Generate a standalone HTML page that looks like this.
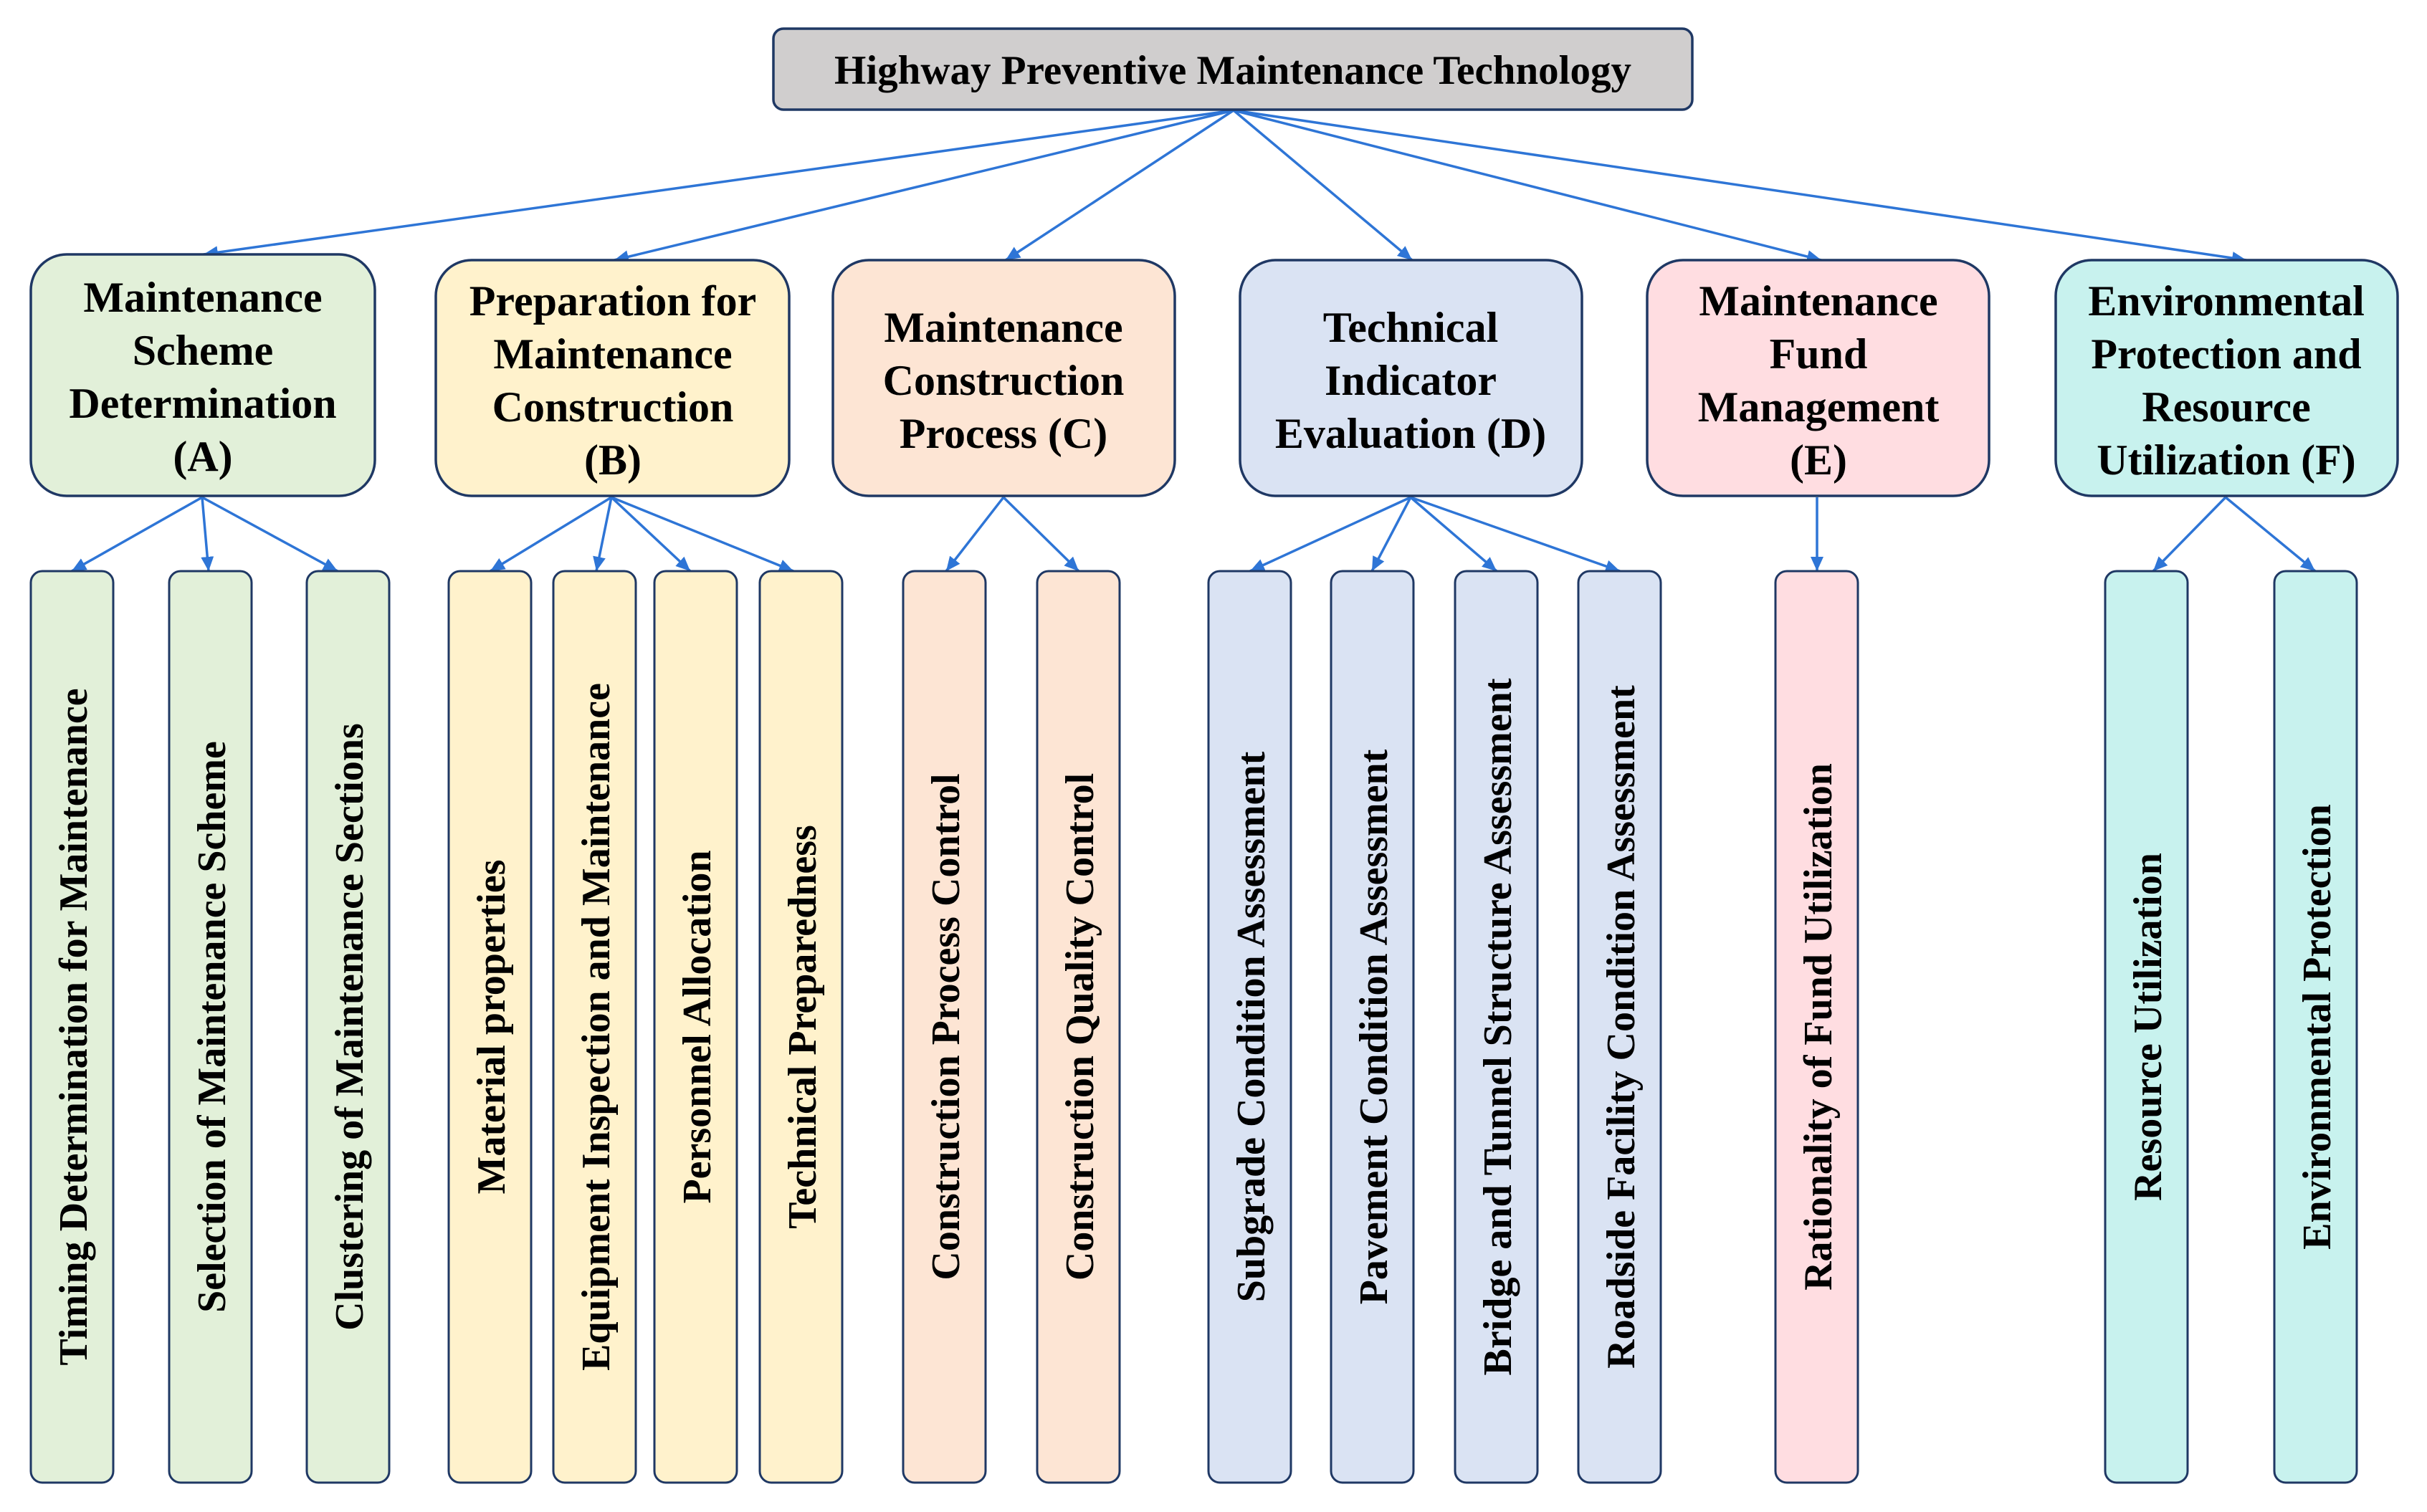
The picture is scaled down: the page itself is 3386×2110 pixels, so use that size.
<!DOCTYPE html>
<html><head><meta charset="utf-8"><style>html,body{margin:0;padding:0;background:#fff}svg{display:block}</style></head>
<body>
<svg xmlns="http://www.w3.org/2000/svg" width="3386" height="2110" viewBox="0 0 3386 2110" font-family="Liberation Serif, serif" font-weight="bold">
<defs>
<marker id="ar" markerWidth="10" markerHeight="10" refX="9" refY="5" orient="auto" markerUnits="userSpaceOnUse" viewBox="0 0 10 10">
<path d="M0,0 L10,5 L0,10 z" fill="#2e75d6" transform="scale(1)"/>
</marker>
<marker id="a" markerWidth="22" markerHeight="20" refX="20" refY="10" orient="auto" markerUnits="userSpaceOnUse">
<path d="M0,1 L20,10 L0,19 z" fill="#2e75d6"/>
</marker>
</defs>
<g stroke="#2e75d6" stroke-width="3.5" fill="none" marker-end="url(#a)">
<line x1="1721" y1="154" x2="284" y2="355"/>
<line x1="1721" y1="154" x2="857" y2="363"/>
<line x1="1721" y1="154" x2="1403" y2="363"/>
<line x1="1721" y1="154" x2="1970" y2="363"/>
<line x1="1721" y1="154" x2="2541" y2="363"/>
<line x1="1721" y1="154" x2="3134" y2="363"/>
<line x1="282" y1="694" x2="100" y2="797"/>
<line x1="282" y1="694" x2="291" y2="797"/>
<line x1="282" y1="694" x2="471" y2="797"/>
<line x1="853" y1="694" x2="684" y2="797"/>
<line x1="853" y1="694" x2="832" y2="797"/>
<line x1="853" y1="694" x2="963" y2="797"/>
<line x1="853" y1="694" x2="1107" y2="797"/>
<line x1="1400" y1="694" x2="1320" y2="797"/>
<line x1="1400" y1="694" x2="1505" y2="797"/>
<line x1="1968" y1="694" x2="1744" y2="797"/>
<line x1="1968" y1="694" x2="1914" y2="797"/>
<line x1="1968" y1="694" x2="2088" y2="797"/>
<line x1="1968" y1="694" x2="2260" y2="797"/>
<line x1="2535" y1="694" x2="2535" y2="797"/>
<line x1="3105" y1="694" x2="3004" y2="797"/>
<line x1="3105" y1="694" x2="3230" y2="797"/>
</g>
<g stroke="#1f3864" stroke-width="3.5">
<rect x="1079" y="40" width="1282" height="113" rx="14" fill="#d0cece"/>
<rect x="43" y="355" width="480" height="337" rx="50" fill="#e2f0d9"/>
<rect x="608" y="363" width="493" height="329" rx="50" fill="#fff2cc"/>
<rect x="1162" y="363" width="477" height="329" rx="50" fill="#fde5d4"/>
<rect x="1730" y="363" width="477" height="329" rx="50" fill="#dae3f3"/>
<rect x="2298" y="363" width="477" height="329" rx="50" fill="#ffdde1"/>
<rect x="2868" y="363" width="477" height="329" rx="50" fill="#c8f2ee"/>
</g>
<g stroke="#1f3864" stroke-width="3">
<g fill="#e2f0d9"><rect x="43" y="797" width="115" height="1272" rx="16"/><rect x="236" y="797" width="115" height="1272" rx="16"/><rect x="428" y="797" width="115" height="1272" rx="16"/></g>
<g fill="#fff2cc"><rect x="626" y="797" width="115" height="1272" rx="16"/><rect x="772" y="797" width="115" height="1272" rx="16"/><rect x="913" y="797" width="115" height="1272" rx="16"/><rect x="1060" y="797" width="115" height="1272" rx="16"/></g>
<g fill="#fde5d4"><rect x="1260" y="797" width="115" height="1272" rx="16"/><rect x="1447" y="797" width="115" height="1272" rx="16"/></g>
<g fill="#dae3f3"><rect x="1686" y="797" width="115" height="1272" rx="16"/><rect x="1857" y="797" width="115" height="1272" rx="16"/><rect x="2030" y="797" width="115" height="1272" rx="16"/><rect x="2202" y="797" width="115" height="1272" rx="16"/></g>
<g fill="#ffdde1"><rect x="2477" y="797" width="115" height="1272" rx="16"/></g>
<g fill="#c8f2ee"><rect x="2937" y="797" width="115" height="1272" rx="16"/><rect x="3173" y="797" width="115" height="1272" rx="16"/></g>
</g>
<g fill="#000" text-anchor="middle">
<text x="1720" y="117" font-size="57">Highway Preventive Maintenance Technology</text>
<g font-size="60">
<text x="283" y="435">Maintenance</text><text x="283" y="509">Scheme</text><text x="283" y="583">Determination</text><text x="283" y="657">(A)</text>
<text x="855" y="440">Preparation for</text><text x="855" y="514">Maintenance</text><text x="855" y="588">Construction</text><text x="855" y="662">(B)</text>
<text x="1400" y="477">Maintenance</text><text x="1400" y="551">Construction</text><text x="1400" y="625">Process (C)</text>
<text x="1968" y="477">Technical</text><text x="1968" y="551">Indicator</text><text x="1968" y="625">Evaluation (D)</text>
<text x="2537" y="440">Maintenance</text><text x="2537" y="514">Fund</text><text x="2537" y="588">Management</text><text x="2537" y="662">(E)</text>
<text x="3106" y="440">Environmental</text><text x="3106" y="514">Protection and</text><text x="3106" y="588">Resource</text><text x="3106" y="662">Utilization (F)</text>
</g>
<g font-size="56">
<text transform="translate(121,1433) rotate(-90)">Timing Determination for Maintenance</text>
<text transform="translate(314,1433) rotate(-90)">Selection of Maintenance Scheme</text>
<text transform="translate(506,1433) rotate(-90)">Clustering of Maintenance Sections</text>
<text transform="translate(704,1433) rotate(-90)">Material properties</text>
<text transform="translate(850,1433) rotate(-90)">Equipment Inspection and Maintenance</text>
<text transform="translate(991,1433) rotate(-90)">Personnel Allocation</text>
<text transform="translate(1138,1433) rotate(-90)">Technical Preparedness</text>
<text transform="translate(1338,1433) rotate(-90)">Construction Process Control</text>
<text transform="translate(1525,1433) rotate(-90)">Construction Quality Control</text>
<text transform="translate(1764,1433) rotate(-90)">Subgrade Condition Assessment</text>
<text transform="translate(1935,1433) rotate(-90)">Pavement Condition Assessment</text>
<text transform="translate(2108,1433) rotate(-90)">Bridge and Tunnel Structure Assessment</text>
<text transform="translate(2280,1433) rotate(-90)">Roadside Facility Condition Assessment</text>
<text transform="translate(2555,1433) rotate(-90)">Rationality of Fund Utilization</text>
<text transform="translate(3015,1433) rotate(-90)">Resource Utilization</text>
<text transform="translate(3251,1433) rotate(-90)">Environmental Protection</text>
</g>
</g>
</svg>
</body></html>
